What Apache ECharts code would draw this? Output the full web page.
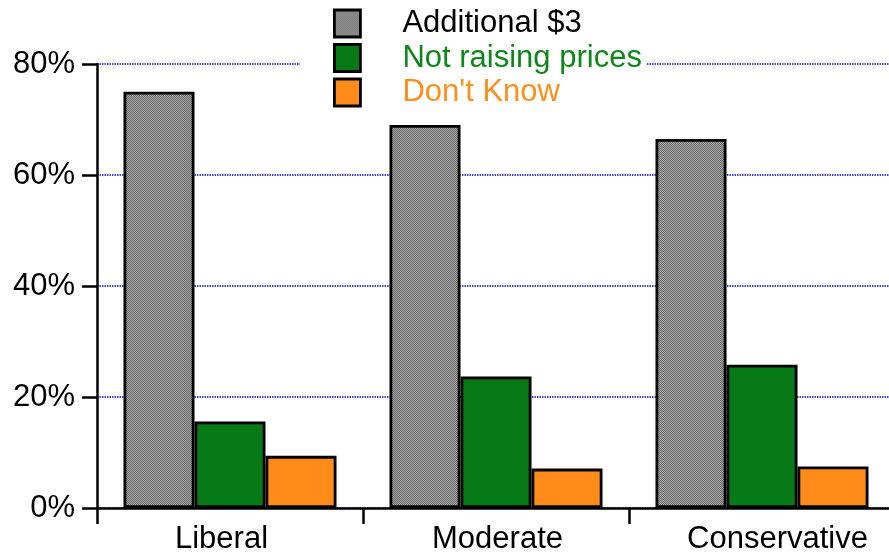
<!DOCTYPE html>
<html>
<head>
<meta charset="utf-8">
<script src="https://cdn.jsdelivr.net/npm/echarts@6/dist/echarts.min.js"></script>
<style>
  html, body { margin: 0; padding: 0; background: #fff; }
  #chart { width: 889px; height: 556px; }
</style>
</head>
<body>
<div id="chart"></div>
<script>
// Survey groups and share of answers per group (percent)
const categories = ['Liberal', 'Moderate', 'Conservative'];
const additional3 = [75, 69, 66.5];
const notRaising = [15.6, 23.7, 25.8];
const dontKnow = [9.4, 7.1, 7.5];
const yTicks = { min: 0, max: 80, interval: 20 };

const seriesNames = ['Additional $3', 'Not raising prices', "Don't Know"];

// Small horizontal nudges of the category labels (padding left/right, px)
const labelNudge = [[0, 17], [3, 0], [31, 0]];

// Fine dithered grey fill for the first series
function ditherPattern() {
  const c = document.createElement('canvas');
  c.width = 2; c.height = 2;
  const g = c.getContext('2d');
  g.fillStyle = '#a9a9a9'; g.fillRect(0, 0, 2, 2);
  g.fillStyle = '#666666'; g.fillRect(0, 0, 1, 1); g.fillRect(1, 1, 1, 1);
  return c;
}

const FONT = '"Liberation Sans", Arial, Helvetica, sans-serif';
const FS = 31;
const chart = echarts.init(document.getElementById('chart'));

const barBase = { type: 'bar', barWidth: 71, barGap: '0%' };
const border = { borderColor: '#000', borderWidth: 2.8 };

chart.setOption({
  animation: false,
  backgroundColor: '#fff',
  grid: { left: 97, top: 64, width: 798, height: 444, containLabel: false, outerBoundsMode: 'none' },
  legend: {
    orient: 'vertical',
    left: 300,
    top: 0,
    padding: [8, 5, 4, 33],
    backgroundColor: '#fff',
    itemWidth: 26,
    itemHeight: 27,
    itemGap: 3.5,
    icon: 'rect',
    itemStyle: { borderColor: '#000', borderWidth: 2.8 },
    textStyle: { fontFamily: FONT, fontSize: FS, lineHeight: 25, padding: [0, 0, 0, 37] },
    data: [
      { name: seriesNames[0], textStyle: { color: '#000' } },
      { name: seriesNames[1], textStyle: { color: '#0f861a' } },
      { name: seriesNames[2], textStyle: { color: '#ff8f1f' } }
    ]
  },
  xAxis: {
    type: 'category',
    data: categories.map((c, i) => ({
      value: c,
      textStyle: { padding: [0, labelNudge[i][1], 0, labelNudge[i][0]] }
    })),
    axisLine: { lineStyle: { color: '#000', width: 2.5 } },
    axisTick: { show: true, alignWithLabel: false, length: 16, lineStyle: { color: '#000', width: 2.5 } },
    axisLabel: { color: '#000', fontFamily: FONT, fontSize: FS, margin: 16 }
  },
  yAxis: {
    type: 'value',
    min: yTicks.min,
    max: yTicks.max,
    interval: yTicks.interval,
    axisLine: { show: true, lineStyle: { color: '#000', width: 2.5 } },
    axisTick: { show: true, length: 15, lineStyle: { color: '#000', width: 2.5 } },
    axisLabel: { color: '#000', fontFamily: FONT, fontSize: FS, margin: 22, formatter: '{value}%' },
    splitLine: { show: true, lineStyle: { color: '#4646dc', type: [1.5, 1], width: 2 } }
  },
  series: [
    Object.assign({}, barBase, {
      name: seriesNames[0], data: additional3,
      itemStyle: Object.assign({ color: { image: ditherPattern(), repeat: 'repeat' } }, border)
    }),
    Object.assign({}, barBase, {
      name: seriesNames[1], data: notRaising,
      itemStyle: Object.assign({ color: '#067a16' }, border)
    }),
    Object.assign({}, barBase, {
      name: seriesNames[2], data: dontKnow,
      itemStyle: Object.assign({ color: '#ff8c1a' }, border)
    })
  ]
});
</script>
</body>
</html>
